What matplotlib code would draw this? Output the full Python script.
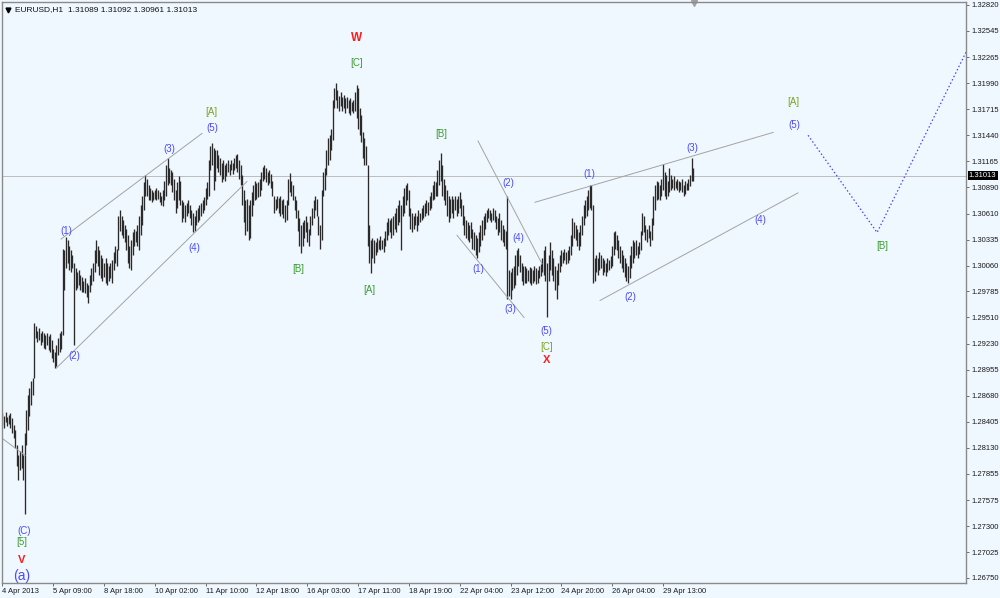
import matplotlib
matplotlib.use('Agg')
import matplotlib.pyplot as plt
import matplotlib.transforms as mtransforms

# EURUSD H1 bars, high / low in units of 0.0001
highs = [
    12850, 12847, 12851, 12846, 12848, 12850, 12844, 12837, 12832, 12816,
    12805, 12810, 12816, 12805, 12829, 12853, 12869, 12876, 12884, 12887,
    12945, 12942, 12937, 12940, 12935, 12937, 12934, 12932, 12935, 12931,
    12933, 12927, 12918, 12914, 12922, 12929, 12935, 12937, 13024, 13022,
    13036, 13033, 13027, 13022, 13017, 13009, 13003, 12999, 13001, 12996,
    12994, 12990, 12993, 12988, 12985, 12996, 13003, 13009, 13022, 13033,
    13027, 13022, 13017, 13014, 13009, 13014, 13009, 13006, 13009, 13012,
    13020, 13027, 13024, 13059, 13065, 13059, 13054, 13049, 13045, 13038,
    13027, 13033, 13041, 13045, 13043, 13049, 13059, 13070, 13080, 13094,
    13102, 13098, 13091, 13088, 13086, 13084, 13086, 13088, 13086, 13084,
    13080, 13086, 13096, 13112, 13120, 13109, 13107, 13105, 13098, 13086,
    13094, 13101, 13096, 13075, 13073, 13070, 13072, 13075, 13070, 13065,
    13062, 13059, 13065, 13067, 13070, 13072, 13075, 13079, 13088, 13094,
    13118, 13133, 13136, 13130, 13128, 13128, 13123, 13120, 13115, 13118,
    13112, 13115, 13118, 13114, 13118, 13115, 13120, 13123, 13124, 13118,
    13112, 13102, 13086, 13075, 13077, 13070, 13075, 13084, 13091, 13096,
    13093, 13094, 13098, 13105, 13110, 13112, 13109, 13105, 13107, 13103,
    13096, 13080, 13077, 13080, 13078, 13080, 13075, 13077, 13070, 13075,
    13098, 13104, 13096, 13091, 13080, 13075, 13065, 13056, 13049, 13052,
    13054, 13059, 13052, 13045, 13059, 13067, 13075, 13080, 13077, 13059,
    13049, 13086, 13105, 13109, 13128, 13141, 13144, 13151, 13181, 13194,
    13199, 13192, 13186, 13190, 13185, 13187, 13183, 13185, 13181, 13183,
    13179, 13181, 13190, 13197, 13194, 13173, 13165, 13147, 13141, 13133,
    13112, 13049, 13033, 13035, 13033, 13031, 13035, 13033, 13037, 13033,
    13035, 13043, 13052, 13056, 13054, 13056, 13059, 13062, 13067, 13070,
    13075, 13070, 13080, 13088, 13091, 13093, 13086, 13067, 13062, 13059,
    13062, 13059, 13065, 13062, 13067, 13070, 13072, 13075, 13073, 13080,
    13084, 13091, 13096, 13094, 13107, 13118, 13125, 13112, 13098, 13091,
    13086, 13080, 13077, 13080, 13077, 13080, 13077, 13080, 13084, 13077,
    13070, 13059, 13054, 13052, 13049, 13052, 13045, 13041, 13038, 13035,
    13041, 13049, 13054, 13059, 13062, 13065, 13067, 13065, 13062, 13067,
    13065, 13059, 13056, 13062, 13054, 13049, 13045, 13043, 13080, 13001,
    12999, 13003, 13006, 13017, 13022, 13025, 13017, 13009, 13006, 13006,
    13003, 13001, 13004, 13003, 13001, 13005, 13003, 13001, 13005, 13008,
    13014, 13022, 13027, 13009, 13017, 13031, 13022, 13014, 13006, 13001,
    13009, 13017, 13022, 13020, 13024, 13020, 13022, 13027, 13038, 13056,
    13052, 13049, 13045, 13041, 13049, 13059, 13070, 13075, 13080, 13086,
    13091, 13091, 13070, 13014, 13017, 13014, 13020, 13017, 13014, 13012,
    13009, 13014, 13012, 13016, 13027, 13041, 13043, 13038, 13033, 13027,
    13022, 13017, 13014, 13009, 13006, 13017, 13027, 13033, 13031, 13033,
    13027, 13031, 13043, 13062, 13059, 13049, 13045, 13049, 13043, 13056,
    13080, 13091, 13096, 13094, 13091, 13098, 13114, 13105, 13102, 13096,
    13109, 13102, 13098, 13101, 13096, 13098, 13096, 13094, 13098, 13091,
    13096, 13093, 13098, 13102, 13120, 13109,
]
lows = [
    12837, 12834, 12840, 12836, 12838, 12834, 12829, 12823, 12813, 12794,
    12779, 12789, 12791, 12779, 12743, 12816, 12832, 12847, 12858, 12869,
    12887, 12929, 12925, 12927, 12922, 12925, 12919, 12918, 12922, 12916,
    12914, 12908, 12904, 12897, 12900, 12911, 12914, 12918, 12932, 12980,
    13003, 13009, 13001, 12999, 13003, 12922, 12980, 12982, 12985, 12980,
    12978, 12978, 12977, 12973, 12966, 12978, 12985, 12990, 12999, 13009,
    13006, 12996, 12993, 12990, 12994, 12988, 12985, 12990, 12993, 12987,
    13001, 13009, 13006, 13022, 13043, 13038, 13035, 13031, 13022, 13009,
    13003, 13001, 13017, 13027, 13031, 13027, 13022, 13038, 13049, 13065,
    13080, 13080, 13075, 13075, 13073, 13075, 13077, 13075, 13077, 13073,
    13070, 13069, 13075, 13080, 13091, 13093, 13091, 13084, 13075, 13062,
    13067, 13075, 13070, 13052, 13056, 13052, 13059, 13062, 13056, 13049,
    13041, 13043, 13049, 13052, 13054, 13059, 13062, 13065, 13070, 13077,
    13080, 13107, 13112, 13086, 13096, 13109, 13105, 13102, 13094, 13098,
    13096, 13101, 13105, 13102, 13107, 13103, 13107, 13109, 13105, 13098,
    13091, 13070, 13052, 13038, 13043, 13033, 13035, 13059, 13070, 13075,
    13077, 13079, 13080, 13086, 13096, 13098, 13094, 13091, 13093, 13088,
    13080, 13062, 13065, 13067, 13062, 13059, 13061, 13056, 13052, 13054,
    13070, 13084, 13080, 13075, 13065, 13056, 13043, 13027, 13019, 13027,
    13035, 13041, 13031, 13027, 13038, 13049, 13056, 13065, 13059, 13038,
    13024, 13033, 13080, 13086, 13102, 13112, 13118, 13128, 13139, 13173,
    13181, 13173, 13170, 13175, 13170, 13173, 13168, 13173, 13168, 13165,
    13170, 13168, 13170, 13162, 13151, 13144, 13137, 13120, 13112, 13112,
    13027, 13009, 12998, 13014, 13009, 13017, 13020, 13024, 13022, 13024,
    13020, 13027, 13033, 13038, 13041, 13035, 13038, 13045, 13041, 13049,
    13052, 13022, 13059, 13062, 13070, 13075, 13059, 13045, 13041, 13045,
    13049, 13043, 13049, 13052, 13054, 13056, 13059, 13062, 13060, 13065,
    13067, 13075, 13077, 13080, 13080, 13091, 13096, 13080, 13075, 13070,
    13059, 13052, 13056, 13062, 13056, 13065, 13059, 13062, 13067, 13059,
    13049, 13038, 13035, 13033, 13031, 13035, 13024, 13022, 13017, 13014,
    13020, 13027, 13033, 13038, 13045, 13052, 13056, 13054, 13052, 13054,
    13052, 13045, 13038, 13041, 13033, 13031, 13027, 13024, 12971, 12974,
    12971, 12980, 12982, 12985, 12996, 13006, 12999, 12990, 12985, 12988,
    12987, 12990, 12988, 12985, 12988, 12990, 12986, 12988, 12993, 12995,
    12999, 12996, 12990, 12951, 12990, 13001, 12996, 12990, 12980, 12971,
    12985, 12999, 13006, 13009, 13012, 13008, 13009, 13012, 13017, 13027,
    13035, 13033, 13027, 13022, 13027, 13038, 13049, 13056, 13059, 13065,
    13067, 13065, 12988, 12990, 12999, 12996, 13001, 13003, 12996, 12999,
    12995, 12999, 13001, 13003, 13006, 13017, 13024, 13022, 13014, 13009,
    13003, 12999, 12994, 12990, 12987, 12993, 13003, 13009, 13014, 13017,
    13014, 13018, 13022, 13038, 13041, 13033, 13031, 13035, 13027, 13033,
    13049, 13065, 13075, 13077, 13075, 13080, 13086, 13080, 13077, 13080,
    13084, 13086, 13088, 13086, 13088, 13086, 13084, 13086, 13084, 13080,
    13082, 13086, 13086, 13090, 13096, 13096,
]

time_labels = ['4 Apr 2013', '5 Apr 09:00', '8 Apr 18:00', '10 Apr 02:00',
               '11 Apr 10:00', '12 Apr 18:00', '16 Apr 03:00', '17 Apr 11:00',
               '18 Apr 19:00', '22 Apr 04:00', '23 Apr 12:00', '24 Apr 20:00',
               '26 Apr 04:00', '29 Apr 13:00']
bars_per_label = 32

price_ticks = [1.32820, 1.32545, 1.32265, 1.31990, 1.31715, 1.31440, 1.31165,
               1.30890, 1.30610, 1.30335, 1.30060, 1.29785, 1.29510, 1.29230,
               1.28955, 1.28680, 1.28405, 1.28130, 1.27855, 1.27575, 1.27300,
               1.27025, 1.26750]
last_close = 1.31013
header = 'EURUSD,H1  1.31089 1.31092 1.30961 1.31013'

# trend lines: (bar, price) -> (bar, price)
trendlines = [
    ((-0.3, 1.2823), (14.2, 1.2805)),
    ((36.9, 1.3034), (125.7, 1.3146)),
    ((33.7, 1.2897), (154.0, 1.3095)),
    ((299.5, 1.3138), (339.8, 1.3008)),
    ((286.3, 1.3038), (328.5, 1.2951)),
    ((335.4, 1.3073), (485.4, 1.3147)),
    ((376.4, 1.2969), (501.1, 1.3083)),
]
forecast_x = [507.4, 550.9, 606.9]
forecast_y = [1.3144, 1.3041, 1.3232]

BLUE = '#4b4bff'
GREEN = '#3a9e2e'
OLIVE = '#7aa51c'
RED = '#ff1a1a'
LBL = 7
wave_labels = [
    ('W', 223.3, 1.3247, RED, 8.5, 'bold'),
    ('[C]', 223.3, 1.3221, GREEN, LBL, 'normal'),
    ('[A]', 131.3, 1.3169, OLIVE, LBL, 'normal'),
    ('(5)', 132.0, 1.3152, BLUE, LBL, 'normal'),
    ('(3)', 104.9, 1.3129, BLUE, LBL, 'normal'),
    ('(1)', 40.0, 1.3043, BLUE, LBL, 'normal'),
    ('(2)', 45.0, 1.2910, BLUE, LBL, 'normal'),
    ('(4)', 120.6, 1.3025, BLUE, LBL, 'normal'),
    ('[B]', 186.1, 1.3002, GREEN, LBL, 'normal'),
    ('[A]', 230.9, 1.2980, GREEN, LBL, 'normal'),
    ('[B]', 276.2, 1.3145, GREEN, LBL, 'normal'),
    ('(2)', 318.4, 1.3093, BLUE, LBL, 'normal'),
    ('(1)', 299.5, 1.3002, BLUE, LBL, 'normal'),
    ('(4)', 324.7, 1.3035, BLUE, LBL, 'normal'),
    ('(3)', 319.7, 1.2960, BLUE, LBL, 'normal'),
    ('(5)', 342.4, 1.2937, BLUE, LBL, 'normal'),
    ('[C]', 342.4, 1.2920, OLIVE, LBL, 'normal'),
    ('X', 343.0, 1.2906, RED, 8, 'bold'),
    ('(1)', 369.4, 1.3103, BLUE, LBL, 'normal'),
    ('(3)', 434.3, 1.3130, BLUE, LBL, 'normal'),
    ('(4)', 477.2, 1.3054, BLUE, LBL, 'normal'),
    ('(2)', 395.3, 1.2973, BLUE, LBL, 'normal'),
    ('[A]', 497.9, 1.3179, OLIVE, LBL, 'normal'),
    ('(5)', 498.6, 1.3155, BLUE, LBL, 'normal'),
    ('[B]', 554.0, 1.3027, GREEN, LBL, 'normal'),
    ('(C)', 13.5, 1.2725, BLUE, LBL, 'normal'),
    ('[5]', 12.3, 1.2713, GREEN, LBL, 'normal'),
    ('V', 12.3, 1.2694, RED, 8, 'bold'),
    ('(a)', 12.3, 1.2677, BLUE, 10, 'normal'),
]

plt.rcParams['font.family'] = ['Liberation Sans', 'DejaVu Sans']
BG = '#f0f8ff'

fig = plt.figure(figsize=(10, 5.98), dpi=100, facecolor=BG)
ax = fig.add_axes([0.002, 0.0251, 0.964, 0.9716], facecolor=BG)

x = list(range(len(highs)))
ax.vlines(x, [v / 10000 for v in lows], [v / 10000 for v in highs],
          color='#2a2a2a', linewidth=0.95)

ax.axhline(last_close, color='#bdbdbd', linewidth=0.7, zorder=0)

for (x0, y0), (x1, y1) in trendlines:
    ax.plot([x0, x1], [y0, y1], color='#a3a3a3', linewidth=0.7)

ax.plot(forecast_x, forecast_y, color='#4646ff', linewidth=0.9,
        linestyle=(0, (1.2, 1.8)), clip_on=False)

for text, tx, ty, col, size, weight in wave_labels:
    ax.text(tx, ty, text, color=col, fontsize=size, fontweight=weight,
            ha='center', va='center')

ax.set_xlim(-0.3, 606.9)
ax.set_ylim(1.26697, 1.32852)

ax.yaxis.tick_right()
ax.set_yticks(price_ticks)
ax.set_yticklabels(['%.5f' % p for p in price_ticks])
ax.set_xticks([k * bars_per_label for k in range(len(time_labels))])
ax.set_xticklabels(time_labels)
for lab in ax.get_xticklabels():
    lab.set_ha('left')
ax.tick_params(axis='both', direction='out', length=2.5, width=0.6,
               color='#555555', labelsize=5.5, labelcolor='#1a1a1a', pad=1.2)

for sp in ax.spines.values():
    sp.set_color('#8a8a8a')
    sp.set_linewidth(1.0)

# current price tag
trans = mtransforms.blended_transform_factory(ax.transAxes, ax.transData)
ax.text(1.003, last_close, '%.5f' % last_close, transform=trans, ha='left',
        va='center', color='white', fontsize=5.5,
        bbox=dict(facecolor='black', edgecolor='none', pad=0.8))

# header and markers
ax.plot(0.006, 0.987, marker='v', markersize=3.5, color='black',
        transform=ax.transAxes, clip_on=False)
ax.text(0.013, 0.987, header, transform=ax.transAxes, ha='left', va='center',
        fontsize=6, color='#111111')
trans_top = mtransforms.blended_transform_factory(ax.transData, ax.transAxes)
ax.plot(435.3, 0.998, marker='v', markersize=5, color='#a0a0a0',
        transform=trans_top, clip_on=False)

fig.savefig('out.png', dpi=100, facecolor=BG)
